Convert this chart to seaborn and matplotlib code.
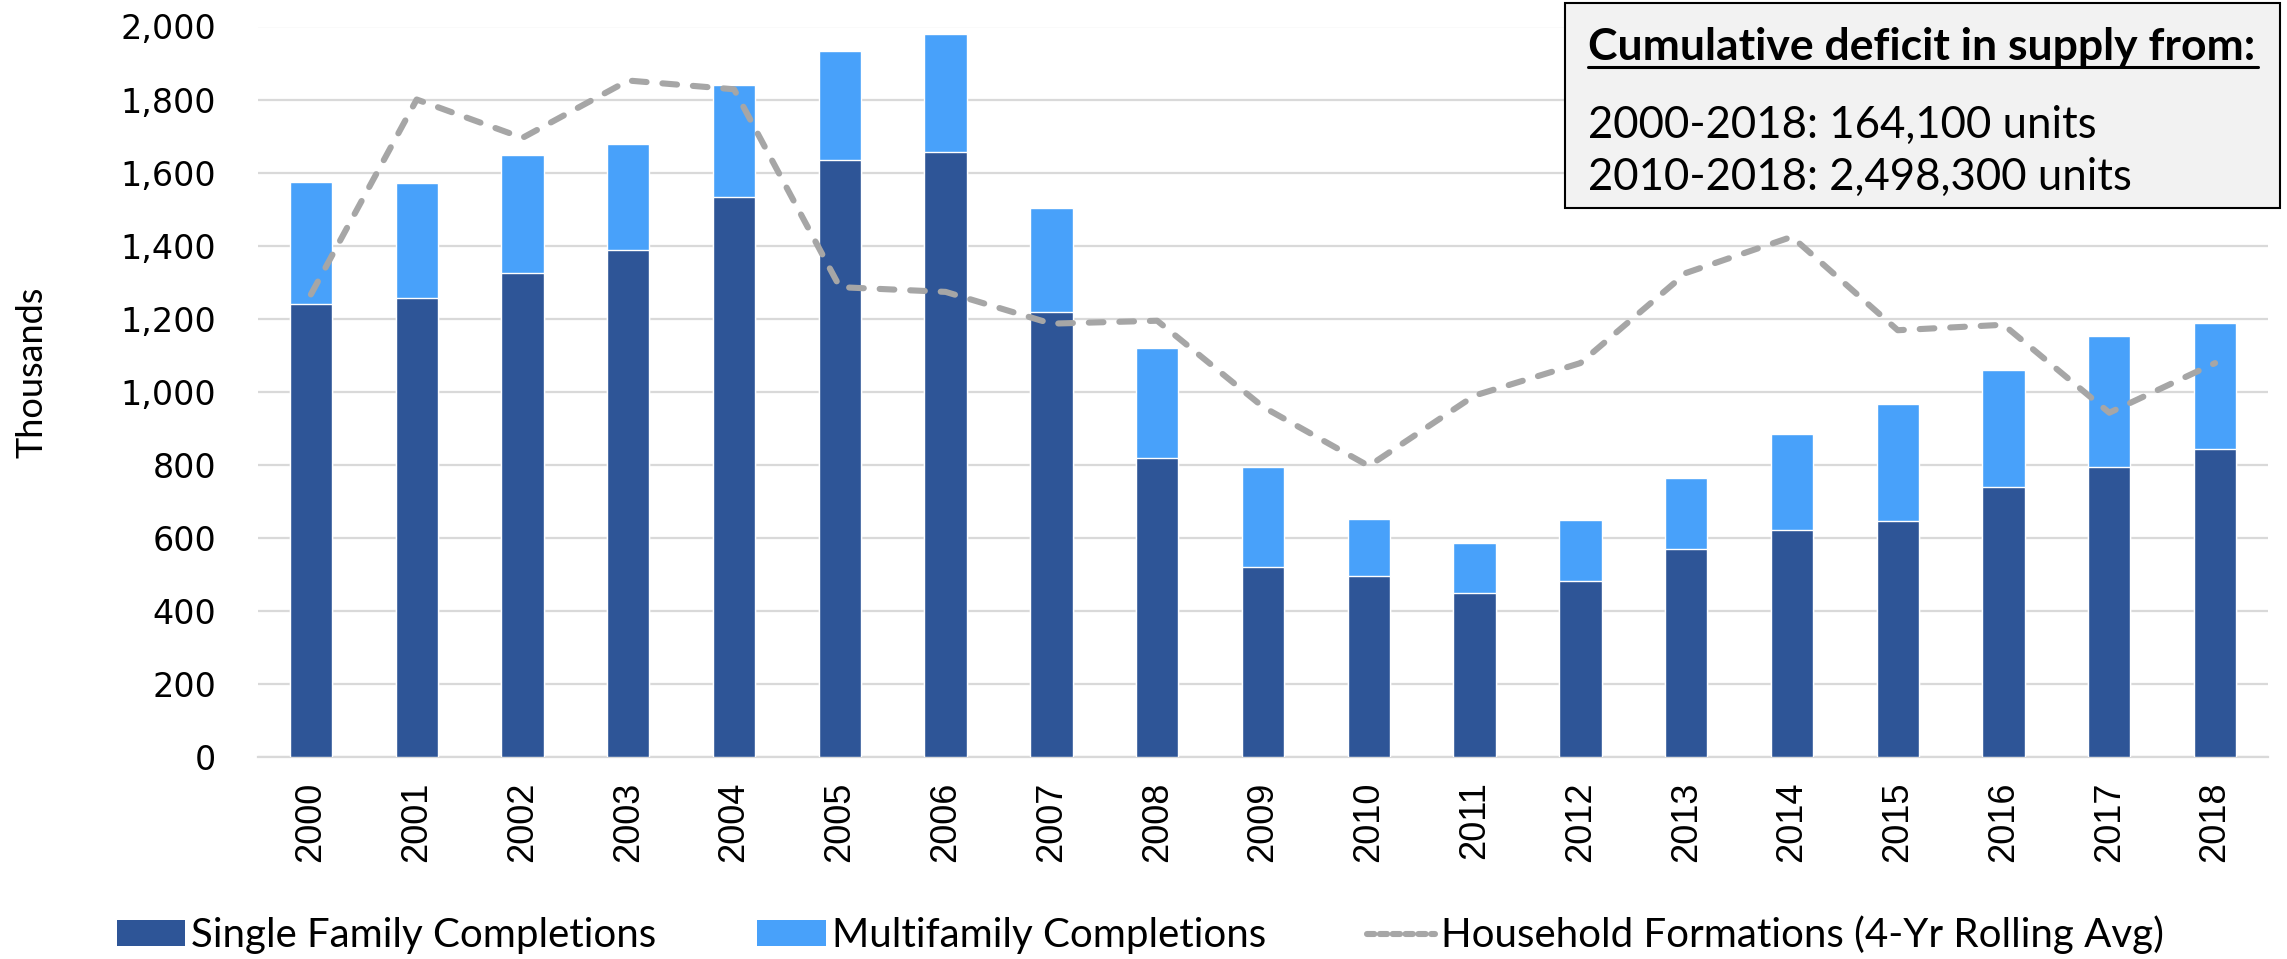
import numpy as np
import pandas as pd
import matplotlib
matplotlib.use("Agg")
import matplotlib.pyplot as plt
import seaborn as sns
from matplotlib.patches import Patch, Rectangle
from matplotlib.lines import Line2D

# values in thousands
years = [str(y) for y in range(2000, 2019)]
single_family = [1241, 1255, 1325, 1387, 1532, 1635, 1655, 1217, 818, 520,
                 495, 447, 482, 570, 620, 646, 738, 794, 843]
total_completions = [1574, 1570, 1648, 1678, 1841, 1932, 1979, 1503, 1118, 794,
                     651, 584, 649, 762, 883, 966, 1059, 1152, 1189]
household_formations = [1266, 1800, 1695, 1852, 1828, 1286, 1273, 1186, 1194, 958,
                        796, 989, 1078, 1325, 1424, 1168, 1183, 942, 1078]
y_ticks = list(range(0, 2001, 200))
box_title = "Cumulative deficit in supply from:"
box_lines = ["2000-2018: 164,100 units", "2010-2018: 2,498,300 units"]

df = pd.DataFrame({"year": years, "single": single_family,
                   "total": total_completions, "hh": household_formations})

DARK = "#2e5597"
LIGHT = "#48a1fa"
GRAY = "#a6a6a6"
GRID = "#d9d9d9"

sns.set_theme(style="white")
calib = ["Lato", "DejaVu Sans"]
plt.rcParams["font.family"] = ["Liberation Sans", "DejaVu Sans"]
plt.rcParams["text.color"] = "black"
plt.rcParams["xtick.color"] = "black"
plt.rcParams["ytick.color"] = "black"

W, H = 2287, 959
fig = plt.figure(figsize=(W / 100, H / 100), dpi=100)
ax = fig.add_axes([258 / W, 1 - 756.6 / H, 2010 / W, 730.1 / H])

# stacked bars: total first (light), single family over it (dark)
sns.barplot(data=df, x="year", y="total", color=LIGHT, width=0.4,
            saturation=1, ax=ax, zorder=2)
sns.barplot(data=df, x="year", y="single", color=DARK, width=0.4,
            saturation=1, ax=ax, zorder=3)
sns.lineplot(x=np.arange(len(years)), y=df["hh"], ax=ax, color=GRAY,
             lw=4.4, zorder=4)
ax.lines[-1].set_dashes((2.4, 2.6))
ax.lines[-1].set_dash_capstyle("round")

ax.set_xlim(-0.5, len(years) - 0.5)
ax.set_ylim(0, 2000)
ax.set_yticks(y_ticks)
ax.set_yticklabels([f"{v:,}" for v in y_ticks], fontsize=24,
                   family=["DejaVu Sans"])
ax.tick_params(axis="y", length=0, pad=30)
ax.tick_params(axis="x", length=0, pad=18, labelsize=26, rotation=90)
ax.grid(axis="y", color=GRID, lw=1.6, zorder=0)
ax.set_axisbelow(True)
for s in ["left", "right", "top"]:
    ax.spines[s].set_visible(False)
ax.spines["bottom"].set_color(GRID)
ax.spines["bottom"].set_linewidth(1.6)
ax.set_xlabel("")
ax.set_ylabel("")

fig.text(32 / W, 1 - 372 / H, "Thousands", rotation=90, ha="center",
         va="center", fontsize=26, family=calib)

# annotation box
fig.patches.append(Rectangle((1565 / W, 1 - 208 / H), 715 / W, 205 / H,
                             transform=fig.transFigure, facecolor="#f2f2f2",
                             edgecolor="black", lw=1.5, zorder=5))
fig.text(1588 / W, 1 - 60 / H, box_title, ha="left", va="baseline",
         fontsize=32, fontweight="bold", family=calib, zorder=6)
fig.add_artist(Line2D([1588 / W, 2258 / W], [1 - 67 / H, 1 - 67 / H],
                      transform=fig.transFigure, color="black", lw=2.2,
                      zorder=6))
fig.text(1588 / W, 1 - 138 / H, box_lines[0], ha="left", va="baseline",
         fontsize=31.5, family=calib, zorder=6)
fig.text(1588 / W, 1 - 190 / H, box_lines[1], ha="left", va="baseline",
         fontsize=31.5, family=calib, zorder=6)

handles = [Patch(facecolor=DARK, edgecolor="none"),
           Patch(facecolor=LIGHT, edgecolor="none"),
           Line2D([], [], color=GRAY, lw=4.4, dashes=(1.2, 0.9),
                  dash_capstyle="round")]
labels = ["Single Family Completions", "Multifamily Completions",
          "Household Formations (4-Yr Rolling Avg)"]
fig.legend(handles, labels, loc="center",
           bbox_to_anchor=(0.5 - 3 / W, 1 - 935 / H),
           ncol=3, frameon=False, prop={"family": calib, "size": 29},
           handlelength=1.7, handleheight=0.6, handletextpad=0.15,
           columnspacing=2.5)

fig.savefig("out.png", dpi=100)
